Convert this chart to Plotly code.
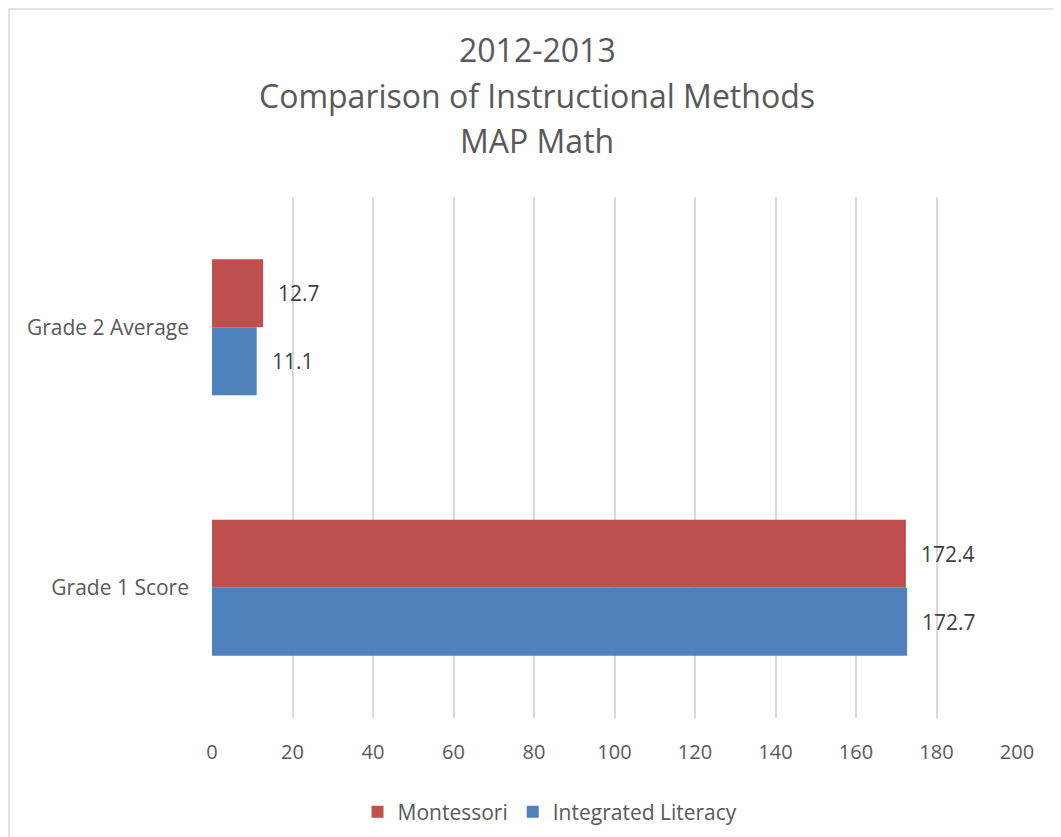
import plotly.graph_objects as go

categories = ["Grade 1 Score", "Grade 2 Average"]
montessori = [172.4, 12.7]
integrated = [172.7, 11.1]
x_ticks = [0, 20, 40, 60, 80, 100, 120, 140, 160, 180, 200]
title_lines = ["2012-2013", "Comparison of Instructional Methods", "MAP Math"]

RED = "#C0504D"
BLUE = "#4F81BD"
FONT = "Open Sans"

W, H = 1053, 829
L, R, T, B = 204, 44, 189, 119
PW = W - L - R
PH = H - T - B


def px(xp):
    return (xp - L) / PW


def py(yp):
    return (H - B - yp) / PH


fig = go.Figure()
fig.add_trace(go.Bar(y=categories, x=integrated, orientation="h", name="Integrated Literacy",
                     marker=dict(color=BLUE, line=dict(width=0)), legendrank=2))
fig.add_trace(go.Bar(y=categories, x=montessori, orientation="h", name="Montessori",
                     marker=dict(color=RED, line=dict(width=0)), legendrank=1))

# data labels
for vals, shift in ((montessori, 34), (integrated, -34)):
    for c, v in zip(categories, vals):
        fig.add_annotation(x=v, y=c, text=str(v), showarrow=False, xanchor="left",
                           xshift=13, yshift=shift,
                           font=dict(family=FONT, size=21, color="#404040"))

# title lines
for line, yc in zip(title_lines, (42, 88, 133)):
    fig.add_annotation(text=line, xref="paper", yref="paper", x=px(529), y=py(yc),
                       xanchor="center", yanchor="middle", showarrow=False,
                       font=dict(family=FONT, size=32, color="#595959"))

fig.add_shape(type="rect", xref="paper", yref="paper",
              x0=px(1), x1=px(W + 50), y0=py(H + 50), y1=py(1),
              line=dict(color="#D9D9D9", width=1.5), layer="below")

fig.update_layout(
    width=W, height=H,
    margin=dict(l=L, r=R, t=T, b=B, autoexpand=False),
    paper_bgcolor="white", plot_bgcolor="white",
    barmode="group", bargap=0.478, bargroupgap=0,
    xaxis=dict(range=[0, 200], tickvals=x_ticks, showgrid=True, gridcolor="#D9D9D9", gridwidth=1.5,
               zeroline=False, showline=False, ticks="", ticklabelstandoff=20,
               tickfont=dict(family=FONT, size=20, color="#595959")),
    yaxis=dict(showgrid=False, zeroline=False, showline=False, ticks="", ticklabelstandoff=22,
               tickfont=dict(family=FONT, size=21, color="#595959")),
    legend=dict(orientation="h", x=px(542), xanchor="center", y=py(804),
                yanchor="middle", font=dict(family=FONT, size=21, color="#595959")),
    showlegend=True,
)

fig.write_html("out.html")
